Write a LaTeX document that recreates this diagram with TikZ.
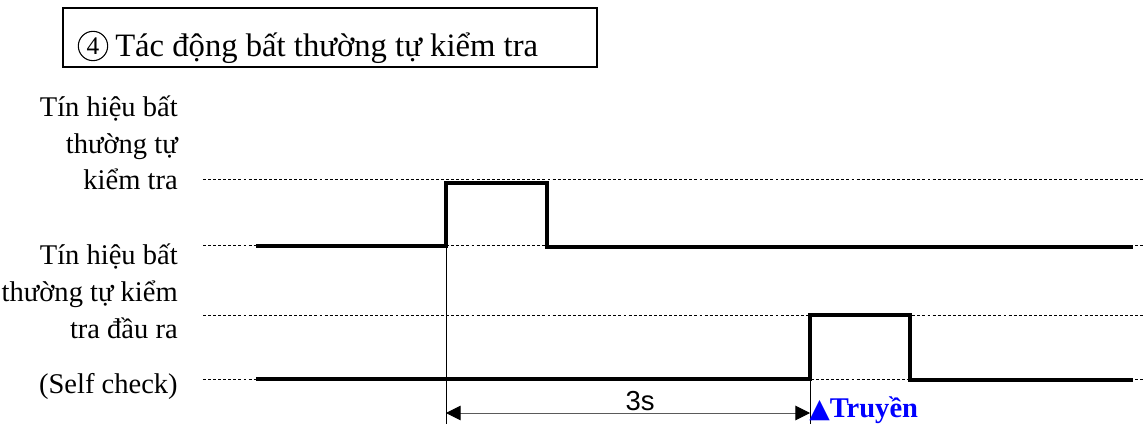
\documentclass[tikz,border=0pt]{standalone}
\usepackage{fontspec}
\setmainfont{Liberation Serif}
\setsansfont{Liberation Sans}
\newfontfamily\symfont{DejaVu Sans}
\usetikzlibrary{arrows.meta}
\definecolor{sigBlue}{HTML}{0000FF}
\definecolor{dimGrey}{HTML}{5A5A5A}
\tikzset{
  levelline/.style = {line width=0.75pt, black, dash pattern=on 2.2pt off 1.6pt},
  wave/.style      = {line width=3.5pt, black, line join=miter},
  guide/.style     = {line width=0.75pt, black},
  dimline/.style   = {{Triangle[length=11pt, width=11pt, color=black]}-{Triangle[length=11pt, width=11pt, color=black]},
                      line width=0.75pt, dimGrey},
  lbl/.style       = {font=\fontsize{21.4}{27.4}\selectfont, align=right, inner sep=0pt},
  ttl/.style       = {font=\fontsize{24.5}{29}\selectfont, inner sep=0pt},
}

\begin{document}
\begin{tikzpicture}[x=0.75pt, y=-0.75pt]
\useasboundingbox (0,0) rectangle (1143,424);

% title box
\draw[line width=1.5pt] (63,8) rectangle (597,67);
\node[circle, draw, line width=0.8pt, inner sep=0pt, minimum size=22pt,
      font=\fontsize{19}{22}\selectfont] (num) at (93,46) {4};
\node[ttl, anchor=base west] (title) at (115,57) {Tác động bất thường tự kiểm tra};

% signal names (base = last line)
\node[lbl, anchor=base east] (sigA) at (178,190) {Tín hiệu bất\\thường tự\\kiểm tra};
\node[lbl, anchor=base east] (sigB) at (178,338) {Tín hiệu bất\\thường tự kiểm\\tra đầu ra};
\node[lbl, anchor=base east] (sigC) at (178,393) {(Self check)};

% high / low levels
\foreach \y in {180,246,315,379}
  \draw[levelline] (203,\y) -- (1143,\y);

% edges
\coordinate (aRise) at (446,246);
\coordinate (aFall) at (547,183);
\coordinate (bRise) at (810,379);
\coordinate (bFall) at (910,315);

\draw[wave] (256,246) -- (aRise) -- (446,183) -- (aFall) -- (547,247) -- (1133,247);
\draw[wave] (256,379) -- (bRise) -- (810,315) -- (bFall) -- (910,380) -- (1133,380);

% 3s delay
\draw[guide] (aRise) -- (aRise |- 0,424);
\draw[guide] (bRise) -- (bRise |- 0,424);
\coordinate (t0) at (446,413);
\coordinate (t1) at (810,413);
\draw[dimline] (t0) -- (t1);
\node[anchor=base, inner sep=0pt, font=\sffamily\fontsize{20.6}{24}\selectfont] (dur) at (640,410) {3s};
\node[anchor=base west, inner sep=0pt, text=sigBlue, font=\fontsize{21.4}{25}\selectfont\bfseries]
  (send) at (809,417) {{\symfont\fontsize{20}{22}\selectfont ▲}Truyền};
\end{tikzpicture}
\end{document}
